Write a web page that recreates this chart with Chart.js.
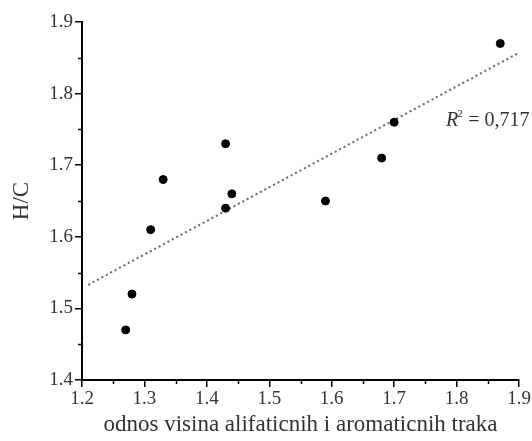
<!DOCTYPE html>
<html>
<head>
<meta charset="utf-8">
<script src="https://cdn.jsdelivr.net/npm/chart.js@4/dist/chart.umd.min.js"></script>
<style>
  html, body { margin: 0; padding: 0; background: #fff; }
  #wrap { width: 532px; height: 441px; }
</style>
</head>
<body>
<div id="wrap"><canvas id="c" width="532" height="441"></canvas></div>
<script>
// ---- data ----
const ratioX = [1.27, 1.28, 1.31, 1.33, 1.43, 1.43, 1.44, 1.59, 1.68, 1.70, 1.87];
const hcY    = [1.47, 1.52, 1.61, 1.68, 1.73, 1.64, 1.66, 1.65, 1.71, 1.76, 1.87];
const trendX = [1.21, 1.90];
const trendY = [1.533, 1.857];
const xTicks = [1.2, 1.3, 1.4, 1.5, 1.6, 1.7, 1.8, 1.9];
const yTicks = [1.4, 1.5, 1.6, 1.7, 1.8, 1.9];
const xTitle = 'odnos visina alifaticnih i aromaticnih traka';
const yTitle = 'H/C';
const r2Label = '0,717';

const FONT = "'Liberation Serif', 'Times New Roman', serif";
const TEXT = '#333';

const points = ratioX.map((x, i) => ({ x: x, y: hcY[i] }));
const trend = trendX.map((x, i) => ({ x: x, y: trendY[i] }));

const minorTicks = {
  id: 'minorTicks',
  afterDraw(chart) {
    const ctx = chart.ctx;
    ctx.save();
    ctx.strokeStyle = '#000';
    ctx.lineWidth = 1.5;
    const xs = chart.scales.x, ys = chart.scales.y;
    for (let i = 0; i < xTicks.length - 1; i++) {
      const v = (xTicks[i] + xTicks[i + 1]) / 2;
      const px = Math.round(xs.getPixelForValue(v)) + 0.5;
      ctx.beginPath();
      ctx.moveTo(px, ys.bottom);
      ctx.lineTo(px, ys.bottom + 4);
      ctx.stroke();
    }
    for (let i = 0; i < yTicks.length - 1; i++) {
      const v = (yTicks[i] + yTicks[i + 1]) / 2;
      const py = Math.round(ys.getPixelForValue(v)) + 0.5;
      ctx.beginPath();
      ctx.moveTo(xs.left, py);
      ctx.lineTo(xs.left - 4, py);
      ctx.stroke();
    }
    ctx.restore();
  }
};

const r2Text = {
  id: 'r2Text',
  afterDatasetsDraw(chart) {
    const ctx = chart.ctx;
    const xs = chart.scales.x, ys = chart.scales.y;
    const x0 = xs.getPixelForValue(1.783);
    const y0 = ys.getPixelForValue(1.755);
    ctx.save();
    ctx.fillStyle = TEXT;
    ctx.textBaseline = 'alphabetic';
    ctx.textAlign = 'left';
    ctx.font = 'italic 20px ' + FONT;
    ctx.fillText('R', x0, y0);
    let w = ctx.measureText('R').width;
    ctx.font = '11px ' + FONT;
    ctx.fillText('2', x0 + w - 1, y0 - 9);
    w += 5;
    ctx.font = '20px ' + FONT;
    ctx.fillText(' = ' + r2Label, x0 + w, y0);
    ctx.restore();
  }
};

new Chart(document.getElementById('c'), {
  type: 'scatter',
  data: {
    datasets: [
      {
        type: 'line',
        data: trend,
        borderColor: '#666',
        borderWidth: 2,
        borderDash: [2, 3],
        pointRadius: 0,
        fill: false,
        order: 2
      },
      {
        data: points,
        backgroundColor: '#000',
        borderColor: '#000',
        pointRadius: 4,
        pointHoverRadius: 4,
        order: 1
      }
    ]
  },
  options: {
    responsive: false,
    animation: false,
    events: [],
    layout: { padding: { top: 22, right: 13, left: 0, bottom: 0 } },
    plugins: { legend: { display: false }, tooltip: { enabled: false } },
    scales: {
      x: {
        type: 'linear',
        min: 1.2, max: 1.9,
        afterBuildTicks: s => { s.ticks = xTicks.map(v => ({ value: v })); },
        afterFit: s => { s.height = 61; },
        ticks: {
          color: TEXT,
          font: { family: FONT, size: 19 },
          padding: 1,
          callback: v => v.toFixed(1)
        },
        grid: { drawOnChartArea: false, drawTicks: true, tickLength: 7, color: '#000', lineWidth: 1.5 },
        border: { display: true, color: '#000', width: 2 },
        title: {
          display: true, text: xTitle, color: TEXT,
          font: { family: FONT, size: 23 },
          padding: { top: 0, bottom: 2 }
        }
      },
      y: {
        type: 'linear',
        min: 1.4, max: 1.9,
        afterBuildTicks: s => { s.ticks = yTicks.map(v => ({ value: v })); },
        afterFit: s => { s.width = 82; },
        ticks: {
          color: TEXT,
          font: { family: FONT, size: 19 },
          padding: 2,
          callback: v => v.toFixed(1)
        },
        grid: { drawOnChartArea: false, drawTicks: true, tickLength: 7, color: '#000', lineWidth: 1.5 },
        border: { display: true, color: '#000', width: 2 },
        title: {
          display: true, text: yTitle, color: TEXT,
          font: { family: FONT, size: 23 },
          padding: { top: 8, bottom: 0 }
        }
      }
    }
  },
  plugins: [minorTicks, r2Text]
});
</script>
</body>
</html>
